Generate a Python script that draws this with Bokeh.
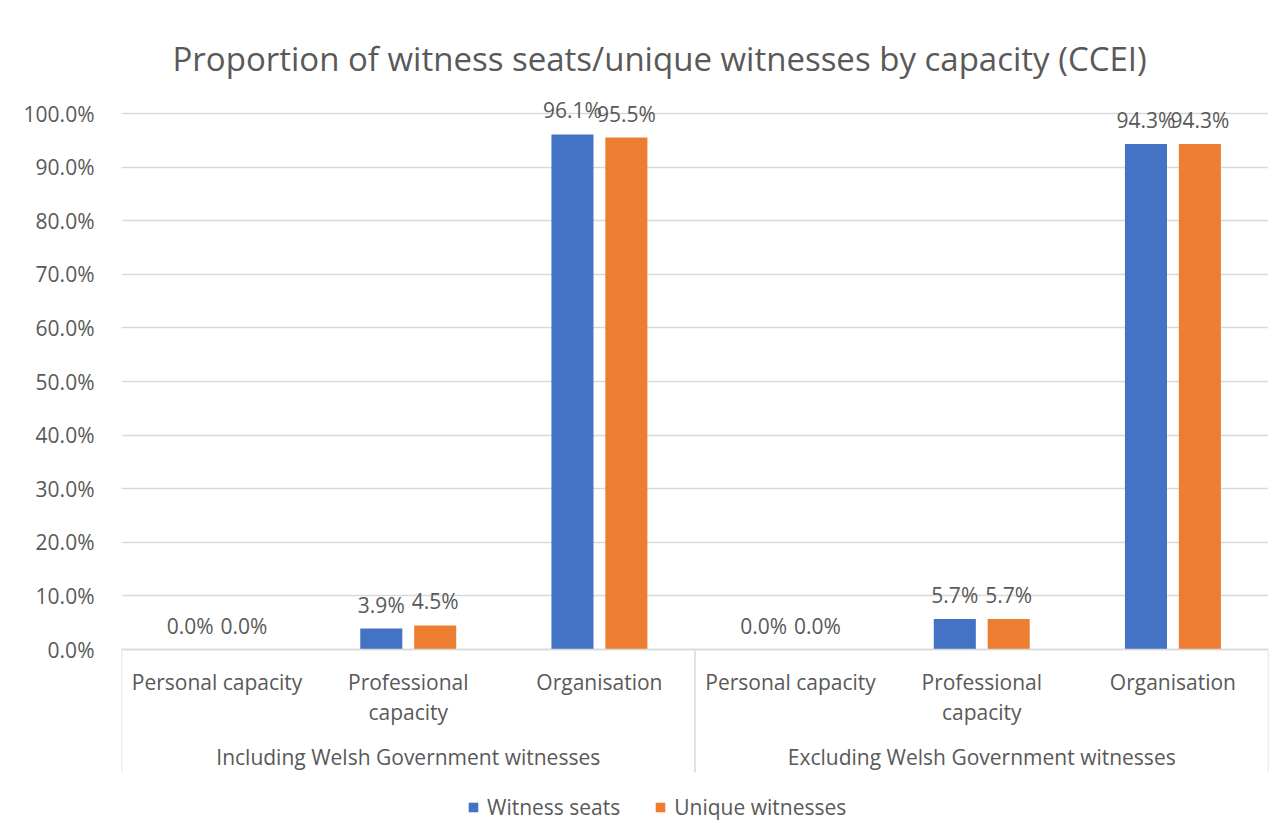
from bokeh.plotting import figure
from bokeh.models import (ColumnDataSource, Range1d, FixedTicker, NumeralTickFormatter,
                          Legend, LegendItem, Title)
from bokeh.transform import dodge
from bokeh.core.properties import value
from bokeh.embed import file_html
from bokeh.resources import INLINE

# ---------------- data ----------------
groups = ["Including Welsh Government witnesses", "Excluding Welsh Government witnesses"]
capacities = ["Personal capacity", "Professional\ncapacity", "Organisation"]
series_names = ["Witness seats", "Unique witnesses"]
witness_seats = [0.0, 0.039, 0.961, 0.0, 0.057, 0.943]
unique_witnesses = [0.0, 0.045, 0.955, 0.0, 0.057, 0.943]
y_ticks = [0.0, 0.1, 0.2, 0.3, 0.4, 0.5, 0.6, 0.7, 0.8, 0.9, 1.0]

# ---------------- style ----------------
FONT = "Open Sans"
TXT = "#595959"
GRID = "#D9D9D9"
BLUE = "#4472C4"
ORANGE = "#ED7D31"
SMALL = "21px"

W, H = 1285, 838
PX_PER_UNIT = 536.0            # pixels for 100%
FRAME_TOP_PAD = 18.0           # px above 100% line
FRAME_BOTTOM_PAD = 189.0       # px below 0% line
n_cat = len(groups) * len(capacities)

p = figure(width=W, height=H, output_backend="svg", toolbar_location=None,
           x_range=Range1d(0, n_cat),
           y_range=Range1d(-FRAME_BOTTOM_PAD / PX_PER_UNIT, 1.0 + FRAME_TOP_PAD / PX_PER_UNIT),
           min_border_left=121, min_border_right=17, min_border_top=95, min_border_bottom=0)
p.outline_line_color = None
p.background_fill_color = "white"
p.border_fill_color = "white"

p.title = Title(text="Proportion of witness seats/unique witnesses by capacity (CCEI)",
                align="left", text_font=FONT, text_font_size="33px",
                text_font_style="normal", text_color=TXT, offset=51, standoff=30)

# y axis
p.yaxis.ticker = FixedTicker(ticks=y_ticks)
p.yaxis.formatter = NumeralTickFormatter(format="0.0%")
p.yaxis.axis_line_color = None
p.yaxis.major_tick_line_color = None
p.yaxis.minor_tick_line_color = None
p.yaxis.major_label_text_font = FONT
p.yaxis.major_label_text_font_size = SMALL
p.yaxis.major_label_text_color = TXT
p.yaxis.major_label_standoff = 21
p.xaxis.visible = False
p.xgrid.grid_line_color = None
p.ygrid.ticker = FixedTicker(ticks=y_ticks)
p.ygrid.grid_line_color = GRID
p.ygrid.grid_line_width = 1.5

# bars
xs = [i + 0.5 for i in range(n_cat)]
src = ColumnDataSource(dict(
    x=xs, seats=witness_seats, unique=unique_witnesses,
    seats_lbl=[f"{v*100:.1f}%" for v in witness_seats],
    unique_lbl=[f"{v*100:.1f}%" for v in unique_witnesses],
))
BAR_W = 0.22
OFF = 0.141
r1 = p.vbar(x=dodge("x", -OFF, range=p.x_range), top="seats", width=BAR_W, source=src,
            fill_color=BLUE, line_color=None)
r2 = p.vbar(x=dodge("x", OFF, range=p.x_range), top="unique", width=BAR_W, source=src,
            fill_color=ORANGE, line_color=None)

# data labels
for col, lbl, off in (("seats", "seats_lbl", -OFF), ("unique", "unique_lbl", OFF)):
    p.text(x=dodge("x", off, range=p.x_range), y=col, text=lbl, source=src,
           text_font=value(FONT), text_font_size=SMALL, text_color=TXT,
           text_align="center", text_baseline="middle", y_offset=-24)

# category axis line + separators
p.segment(x0=[0], y0=[0], x1=[n_cat], y1=[0], line_color=GRID, line_width=1.5)
sep_x = [g * len(capacities) for g in range(len(groups) + 1)]
SEP_LEN = 123.0 / PX_PER_UNIT
p.segment(x0=sep_x, y0=[0] * len(sep_x), x1=sep_x, y1=[-SEP_LEN] * len(sep_x),
          line_color=GRID, line_width=1.5)

# category labels (possibly two lines)
lx, ly_off, lt = [], [], []
for gi in range(len(groups)):
    for ci, cap in enumerate(capacities):
        for li, line in enumerate(cap.split("\n")):
            lx.append(gi * len(capacities) + ci + 0.5)
            ly_off.append(32.5 + 29.5 * li)
            lt.append(line)
lsrc = ColumnDataSource(dict(x=lx, y=[0] * len(lx), yo=ly_off, t=lt))
p.text(x="x", y="y", text="t", y_offset="yo", source=lsrc,
       text_font=value(FONT), text_font_size=SMALL, text_color=TXT,
       text_align="center", text_baseline="middle")

# group labels
gsrc = ColumnDataSource(dict(x=[(g + 0.5) * len(capacities) for g in range(len(groups))],
                             y=[0] * len(groups), t=groups))
p.text(x="x", y="y", text="t", y_offset=107, source=gsrc,
       text_font=value(FONT), text_font_size=SMALL, text_color=TXT,
       text_align="center", text_baseline="middle")

# legend
legend = Legend(items=[LegendItem(label=series_names[0], renderers=[r1]),
                       LegendItem(label=series_names[1], renderers=[r2])],
                orientation="horizontal", location=(346, 17),
                glyph_width=12, glyph_height=12, label_standoff=8, spacing=34,
                padding=0, margin=0, border_line_color=None, background_fill_alpha=0,
                label_text_font=FONT, label_text_font_size=SMALL, label_text_color=TXT,
                label_height=20)
p.add_layout(legend, "center")

open("out.html", "w").write(file_html(p, INLINE))
